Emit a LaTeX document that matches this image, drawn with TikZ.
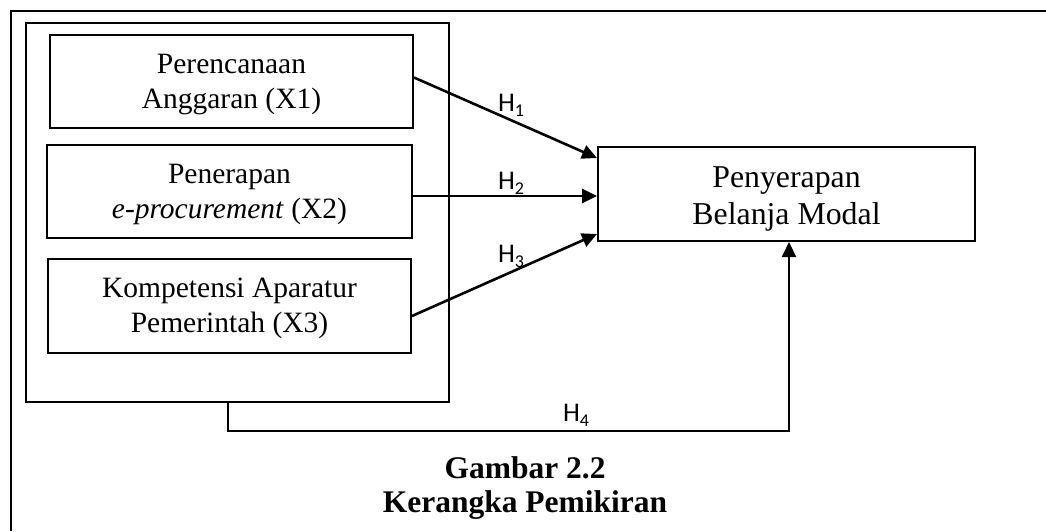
\documentclass[tikz,border=0pt]{standalone}
\usepackage{fontspec}
\setmainfont{Liberation Serif}
\newfontfamily\calibri{Carlito}
\usetikzlibrary{arrows.meta}
\newcommand{\Hlab}[1]{{\calibri\fontsize{27}{30}\selectfont H\raisebox{-5pt}{\fontsize{18}{18}\selectfont #1}}}
\tikzset{
  box/.style={draw, line width=2pt, inner sep=0pt},
  btext/.style={inner sep=0pt, align=center, font=\fontsize{29.5}{35}\selectfont},
  ttext/.style={inner sep=0pt, align=center, font=\fontsize{31.8}{37}\selectfont},
  arr/.style={line width=2.6pt, -{Triangle[length=15pt,width=14pt]}},
  arrthin/.style={line width=2.2pt, -{Triangle[length=15pt,width=14pt]}},
  hlab/.style={inner sep=0pt},
  frame/.style={line width=2.4pt}
}
\begin{document}
\begin{tikzpicture}[x=1pt,y=-1pt]
\useasboundingbox (0,0) rectangle (1046,531);
% outer frame (cut off at right and bottom)
\draw[frame] (1046,11) -- (11,11) -- (11,531);
% big grouping box
\node[box, minimum width=423pt, minimum height=379pt] (big) at (237.5,212.5) {};
% variable boxes
\node[box, minimum width=363pt, minimum height=93pt] (x1) at (231.5,81.5) {};
\node[btext] (x1t) at ([yshift=-3.5pt]x1.center) {Perencanaan\\Anggaran (X1)};
\node[box, minimum width=365pt, minimum height=93pt] (x2) at (229.5,191.5) {};
\node[btext] (x2t) at ([yshift=-2.5pt]x2.center) {Penerapan\\\textit{e-procurement} (X2)};
\node[box, minimum width=363pt, minimum height=94pt] (x3) at (229.5,306) {};
\node[btext] (x3t) at ([yshift=-2pt]x3.center) {Kompetensi Aparatur\\Pemerintah (X3)};
\node[box, minimum width=377pt, minimum height=94pt] (y) at (786.5,194) {};
\node[ttext] (yt) at ([yshift=-4.5pt]y.center) {Penyerapan\\Belanja Modal};
% arrows
\draw[arr] ([yshift=4pt]x1.east) -- ([yshift=36pt]y.west);
\draw[arr] ([yshift=-4.5pt]x2.east) -- ([yshift=-4.5pt]x2.east -| y.west);
\draw[arr] ([yshift=-10pt]x3.east) -- ([yshift=-40pt]y.west);
\coordinate (h4) at (789,431);
\draw[arrthin] ([xshift=-9.5pt]big.south) |- (h4) -- (h4 |- y.south);
% labels
\node[hlab] (l1) at (511,105) {\Hlab{1}};
\node[hlab] (l2) at (511,183) {\Hlab{2}};
\node[hlab] (l3) at (511,256) {\Hlab{3}};
\node[hlab] (l4) at (576,415) {\Hlab{4}};
% caption
\node[align=center, inner sep=0pt, font=\bfseries\fontsize{31.5}{34}\selectfont] (cap) at (525,488) {Gambar 2.2\\Kerangka Pemikiran};
\end{tikzpicture}
\end{document}
